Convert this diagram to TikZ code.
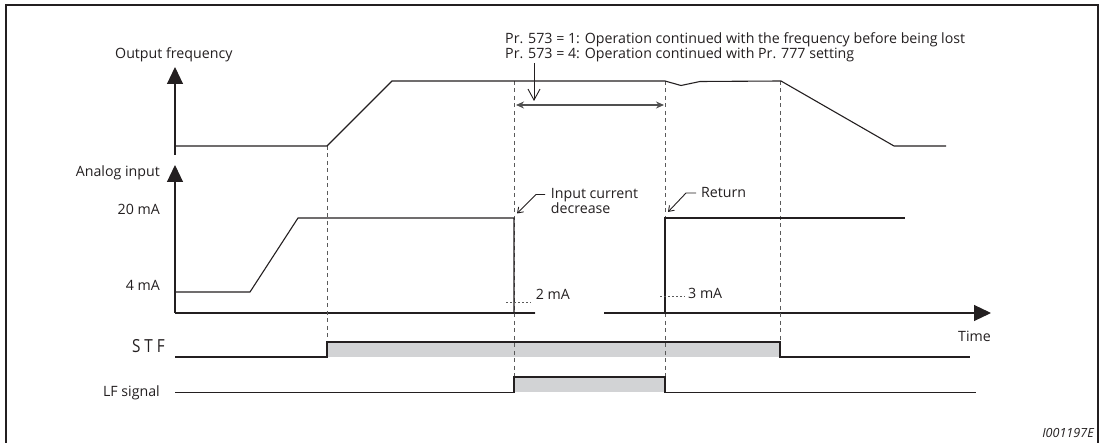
\documentclass[tikz,border=0pt]{standalone}
\usepackage{fontspec}
\setmainfont{Open Sans}
\usetikzlibrary{arrows.meta}
\definecolor{ink}{RGB}{35,31,32}
\definecolor{fillg}{RGB}{210,211,213}
\definecolor{dashg}{RGB}{90,90,90}
\definecolor{dimg}{RGB}{80,80,80}
\begin{document}
\begin{tikzpicture}[x=1pt,y=-1pt,
  font=\fontsize{14.2}{17}\selectfont,
  sig/.style={draw=ink, line width=1.1pt, line join=miter},
  axisarrow/.style={draw=ink, line width=1.1pt, -{Triangle[width=16pt,length=17pt]}},
  guide/.style={draw=dashg, line width=0.9pt, dash pattern=on 4pt off 3.5pt},
  lbl/.style={inner sep=0pt, text=ink},
  pointer/.style={draw=ink, line width=0.9pt, -{Straight Barb[width=7pt,length=5pt]}},
  levelmark/.style={draw=dashg, line width=0.9pt, dash pattern=on 1.5pt off 2.5pt}]
\useasboundingbox (0,0) rectangle (1103,443);
% frame
\draw[ink, line width=2pt] (6,450) -- (6,5) -- (1098,5) -- (1098,450);

% labels
\node[lbl, anchor=base west] (of) at (115,59) {Output frequency};
\node[lbl, anchor=base west] (pr1) at (505,43.3) {Pr. 573 = 1: Operation continued with the frequency before being lost};
\node[lbl, anchor=base west] (pr2) at (505,59) {Pr. 573 = 4: Operation continued with Pr. 777 setting};
\node[lbl, anchor=base east] (ai) at (160,177) {Analog input};
\node[lbl, anchor=base east] (l20) at (160,215) {20 mA};
\node[lbl, anchor=base east] (l4) at (160,291) {4 mA};
\node[lbl, anchor=base east, font=\fontsize{18}{20}\selectfont, xscale=0.85, transform shape] (stf) at (165,353) {S T F};
\node[lbl, anchor=base east] (lf) at (160,396) {LF signal};
\node[lbl, anchor=base west] (time) at (958,341.7) {Time};
\node[lbl, anchor=base west] (m2) at (535.7,300) {2 mA};
\node[lbl, anchor=base west] (m3) at (688,299) {3 mA};
\node[lbl, anchor=base west] (icd1) at (550.7,198.3) {Input current};
\node[lbl, anchor=base west] (icd2) at (550.7,214) {decrease};
\node[lbl, anchor=base west] (ret) at (701,198) {Return};
\node[lbl, anchor=base east, font=\fontsize{12.6}{14}\itshape] (code) at (1094,437) {I001197E};

% coordinates
\coordinate (ofTop) at (175,67);
\coordinate (ofBot) at (175,155);
\coordinate (aiTop) at (175,165);
\coordinate (origin) at (175,313);
\coordinate (tA) at (535,313);
\coordinate (tB) at (604,313);
\coordinate (tEnd) at (991,313);

% axes
\draw[axisarrow] (ofBot) -- (ofTop);
\draw[axisarrow] (origin) -- (aiTop);
\draw[sig] (origin) -- (tA);
\draw[axisarrow] (tB) -- (tEnd);

% gray fills
\fill[fillg] (327,342) rectangle (780,357);
\fill[fillg] (514,377) rectangle (665,392.5);

% guides
\draw[guide] (327,146) -- (327,342);
\draw[guide] (514,81) -- (514,377);
\draw[guide] (665,81) -- (665,377);
\draw[guide] (780,81) -- (780,342);

% output frequency
\draw[sig] (175,146) -- (327,146) -- (392,81) -- (665,81) -- (681,85.5) -- (700,81.5) -- (781,81) -- (894,146) -- (946,146);

% analog input
\draw[sig] (175,292) -- (250,292) -- (298,218) -- (514,218) -- (514,313) -- (535,313);
\draw[sig] (604,313) -- (665,313) -- (665,218) -- (905,218);

% STF
\draw[sig] (175,357) -- (327,357) -- (327,342) -- (780,342) -- (780,357) -- (970,357);
% LF
\draw[sig] (175,392.5) -- (514,392.5) -- (514,377) -- (665,377) -- (665,392.5) -- (976,392.5);

% level marks
\draw[levelmark] (506,302) -- (531,302);
\draw[levelmark] (660,296) -- (685,296);

% duration arrow
\coordinate (dL) at (516,105);
\coordinate (dR) at (664,105);
\draw[draw=dimg, line width=1.6pt, {Stealth[width=7pt,length=8pt]}-{Stealth[width=7pt,length=8pt]}] (dL) -- (dR);
\coordinate (pDown) at (534,101);
\draw[draw=ink, line width=0.9pt, -{Straight Barb[width=12pt,length=11pt]}] (534,63) -- (pDown);

% pointers
\draw[pointer] (545,194.5) -- (536,194.5) -- (517,213.5);
\draw[pointer] (696,193) -- (686,193) -- (668,212);
\end{tikzpicture}
\end{document}
